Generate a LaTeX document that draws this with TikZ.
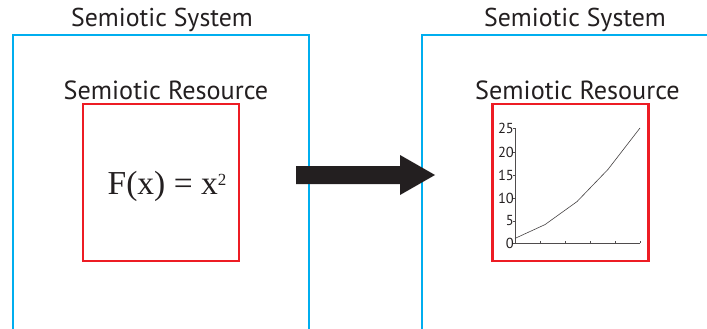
\documentclass[tikz,border=0pt]{standalone}
\usepackage{fontspec}
\setmainfont{PT Sans}
\newfontfamily\formfont{Liberation Serif}
\definecolor{sysblue}{RGB}{0,174,239}
\definecolor{resred}{RGB}{237,28,36}
\definecolor{ink}{RGB}{35,31,32}
\begin{document}
\begin{tikzpicture}[x=1pt,y=-1pt,
  title/.style={font=\fontsize{25.8}{28}\selectfont, text=ink, inner sep=0pt},
  restitle/.style={font=\fontsize{26.2}{28}\selectfont, text=ink, inner sep=0pt},
  resbox/.style={draw=resred, line width=2.8pt, minimum width=156pt, minimum height=157pt, inner sep=0pt},
  sysline/.style={draw=sysblue, line width=2pt},
  ticklab/.style={font=\fontsize{14.5}{16}\selectfont, text=ink, anchor=east, inner sep=0pt},
  axis/.style={draw=ink!80, line width=0.6pt}]
\useasboundingbox (0,0) rectangle (707,329);
\begin{scope}
\clip (0,0) rectangle (707,329);
% systems
\draw[sysline] (13,340) -- (13,35) -- (309,35) -- (309,340);
\draw[sysline] (422,340) -- (422,35) -- (720,35) -- (720,340);
\end{scope}
\node[title] (t1) at (162,20) {Semiotic System};
\node[title] (t2) at (575,20) {Semiotic System};
\node[restitle] (r1) at (166,90) {Semiotic Resource};
\node[restitle] (r2) at (577.5,90) {Semiotic Resource};
\node[resbox] (b1) at (161,182.5) {};
\node[resbox] (b2) at (570.5,182.5) {};
\node[font=\formfont\fontsize{33.5}{36}\selectfont, text=ink, inner sep=0pt, anchor=base] (f) at (167,194.5) {F(x) = x\raisebox{9.5pt}{\fontsize{17}{17}\selectfont 2}};
% arrow
\fill[ink] (296,166) -- (400,166) -- (400,155) -- (435,175) -- (400,195) -- (400,184) -- (296,184) -- cycle;
% chart
\coordinate (o) at (515,243);
\draw[axis] (515,128) -- (o) -- (640,243);
\foreach \v/\y in {0/243,5/221,10/198,15/175,20/152,25/128}{
  \draw[axis] (513,\y) -- (515,\y);
  \node[ticklab] (l\v) at (514,\y) {\v};
}
\foreach \x in {540,565,590,615,640}{
  \draw[axis] (\x,243) -- (\x,240.5);
}
\draw[ink!85, line width=0.6pt] (515,238.4) -- (545,224.6) -- (577,201.6) -- (608,169.4) -- (640,128);
\end{tikzpicture}
\end{document}
